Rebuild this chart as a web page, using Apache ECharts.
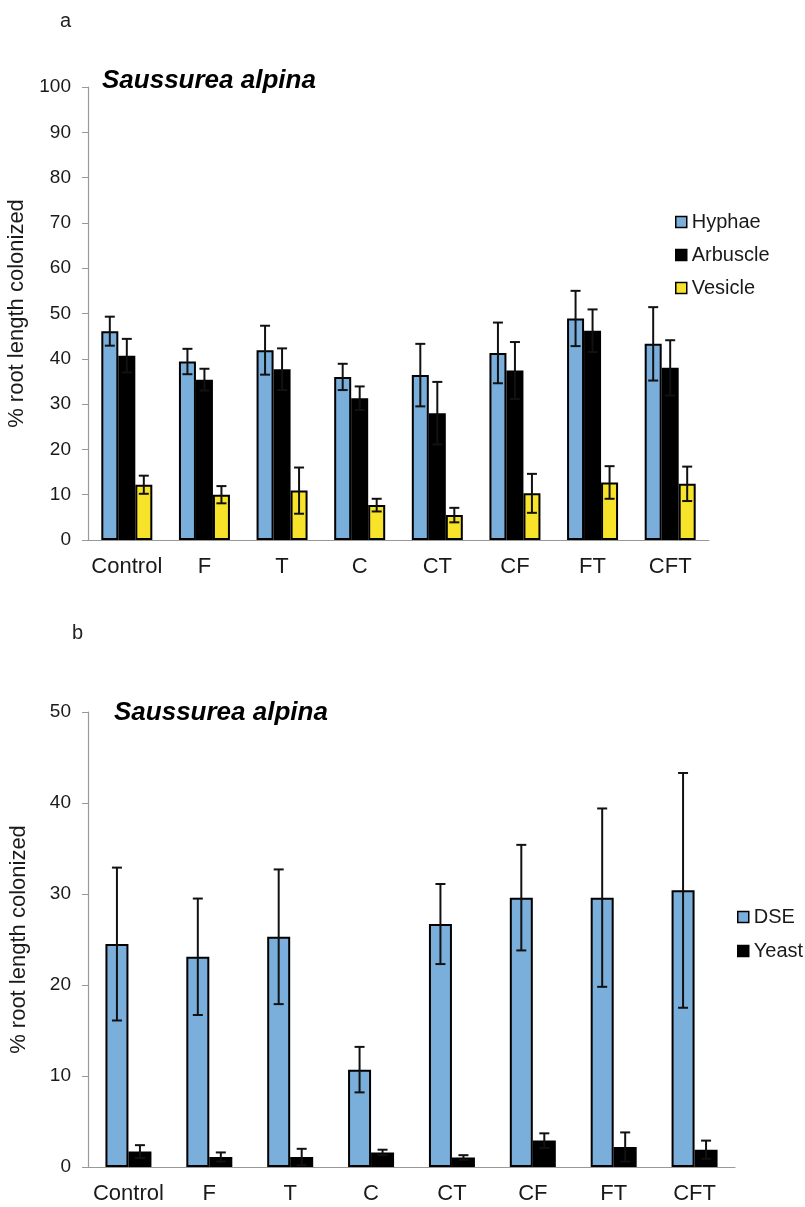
<!DOCTYPE html>
<html>
<head>
<meta charset="utf-8">
<script src="https://cdn.jsdelivr.net/npm/echarts@6/dist/echarts.min.js"></script>
<style>
  html, body { margin: 0; padding: 0; background: #fff; }
  #main { width: 805px; height: 1207px; }
</style>
</head>
<body>
<div id="main"></div>
<script>
// treatments
var cats = ['Control', 'F', 'T', 'C', 'CT', 'CF', 'FT', 'CFT'];

// panel a - AMF structures
var hyphae     = [46.1, 39.4, 41.9, 36.0, 36.4, 41.3, 48.9, 43.3];
var hyphaeErr  = [3.2, 2.8, 5.4, 2.9, 6.9, 6.7, 6.1, 8.1];
var arbuscle    = [40.7, 35.4, 37.7, 31.3, 28.0, 37.4, 46.2, 38.0];
var arbuscleErr = [3.7, 2.4, 4.6, 2.6, 6.9, 6.3, 4.7, 6.1];
var vesicle    = [12.2, 10.0, 10.9, 7.7, 5.5, 10.3, 12.7, 12.4];
var vesicleErr = [2.0, 1.9, 5.1, 1.4, 1.6, 4.3, 3.6, 3.8];

// panel b - DSE and yeast
var dse     = [24.5, 23.1, 25.3, 10.7, 26.7, 29.6, 29.6, 30.4];
var dseErr  = [8.4, 6.4, 7.4, 2.5, 4.4, 5.8, 9.8, 12.9];
var yeast    = [1.7, 1.1, 1.1, 1.6, 1.05, 2.9, 2.2, 1.9];
var yeastErr = [0.7, 0.5, 0.9, 0.3, 0.25, 0.8, 1.6, 1.0];

var FONT = '"Liberation Sans", Arial, sans-serif';
var BLUE = '#7aafdc', YELLOW = '#f7e42a', BLACK = '#000';

function errData(vals, errs) {
  return vals.map(function (v, i) { return [i, v - errs[i], v + errs[i]]; });
}

function errSeries(name, vals, errs, offset, axis) {
  return {
    name: name + ' err',
    type: 'custom',
    xAxisIndex: axis, yAxisIndex: axis,
    z: 10,
    silent: true,
    data: errData(vals, errs),
    renderItem: function (params, api) {
      var lo = api.coord([api.value(0), api.value(1)]);
      var hi = api.coord([api.value(0), api.value(2)]);
      var x = lo[0] + offset;
      var cw = 5;
      var st = { stroke: '#111', lineWidth: 2 };
      return {
        type: 'group',
        children: [
          { type: 'line', shape: { x1: x, y1: lo[1], x2: x, y2: hi[1] }, style: st },
          { type: 'line', shape: { x1: x - cw, y1: hi[1], x2: x + cw, y2: hi[1] }, style: st },
          { type: 'line', shape: { x1: x - cw, y1: lo[1], x2: x + cw, y2: lo[1] }, style: st }
        ]
      };
    }
  };
}

function barSeries(name, vals, color, axis, width) {
  return {
    name: name,
    type: 'bar',
    xAxisIndex: axis, yAxisIndex: axis,
    data: vals,
    barWidth: width,
    barGap: '0%',
    itemStyle: { color: color, borderColor: '#000', borderWidth: 2 }
  };
}

function catAxis(grid) {
  return {
    type: 'category',
    gridIndex: grid,
    data: cats,
    axisLine: { lineStyle: { color: '#999', width: 1.2 } },
    axisTick: { lineStyle: { color: '#999' }, length: 6 },
    axisLabel: { color: '#1a1a1a', fontSize: 22, fontFamily: FONT, margin: 16, interval: 0 }
  };
}

function valAxis(grid, max) {
  return {
    type: 'value',
    gridIndex: grid,
    min: 0, max: max, interval: 10,
    name: '% root length colonized',
    nameLocation: 'middle',
    nameGap: 58,
    nameTextStyle: { color: '#1a1a1a', fontSize: 22, fontFamily: FONT },
    axisLine: { show: true, lineStyle: { color: '#999', width: 1.2 } },
    axisTick: { show: true, length: 6, lineStyle: { color: '#999' } },
    axisLabel: { color: '#1a1a1a', fontSize: 19, fontFamily: FONT, margin: 17 },
    splitLine: { show: false }
  };
}

var chart = echarts.init(document.getElementById('main'));

chart.setOption({
  backgroundColor: '#fff',
  animation: false,
  title: [
    { text: 'a', left: 55, top: 6, textStyle: { fontSize: 20, fontWeight: 'normal', color: '#222', fontFamily: FONT } },
    { text: 'Saussurea alpina', left: 97, top: 63, textStyle: { fontSize: 26, fontStyle: 'italic', fontWeight: 'bold', color: '#000', fontFamily: FONT } },
    { text: 'b', left: 67, top: 618, textStyle: { fontSize: 20, fontWeight: 'normal', color: '#222', fontFamily: FONT } },
    { text: 'Saussurea alpina', left: 109, top: 695, textStyle: { fontSize: 26, fontStyle: 'italic', fontWeight: 'bold', color: '#000', fontFamily: FONT } }
  ],
  legend: [
    {
      data: ['Hyphae', 'Arbuscle', 'Vesicle'],
      orient: 'vertical', left: 670, top: 207,
      icon: 'rect', itemWidth: 11, itemHeight: 11, itemGap: 13,
      itemStyle: { borderColor: '#000', borderWidth: 1.5 },
      textStyle: { fontSize: 20, color: '#1a1a1a', fontFamily: FONT, padding: [0, 0, 0, 0] }
    },
    {
      data: ['DSE', 'Yeast'],
      orient: 'vertical', left: 732, top: 902,
      icon: 'rect', itemWidth: 11, itemHeight: 11, itemGap: 14,
      itemStyle: { borderColor: '#000', borderWidth: 1.5 },
      textStyle: { fontSize: 20, color: '#1a1a1a', fontFamily: FONT, padding: [0, 0, 0, 0] }
    }
  ],
  grid: [
    { left: 88, right: 96, top: 87, height: 453, outerBoundsMode: 'none', containLabel: false },
    { left: 88, right: 70, top: 712, height: 455, outerBoundsMode: 'none', containLabel: false }
  ],
  xAxis: [catAxis(0), catAxis(1)],
  yAxis: [valAxis(0, 100), valAxis(1, 50)],
  series: [
    barSeries('Hyphae', hyphae, BLUE, 0, 17),
    barSeries('Arbuscle', arbuscle, BLACK, 0, 17),
    barSeries('Vesicle', vesicle, YELLOW, 0, 17),
    errSeries('Hyphae', hyphae, hyphaeErr, -17, 0),
    errSeries('Arbuscle', arbuscle, arbuscleErr, 0, 0),
    errSeries('Vesicle', vesicle, vesicleErr, 17, 0),
    barSeries('DSE', dse, BLUE, 1, 23),
    barSeries('Yeast', yeast, BLACK, 1, 23),
    errSeries('DSE', dse, dseErr, -11.5, 1),
    errSeries('Yeast', yeast, yeastErr, 11.5, 1)
  ]
});
</script>
</body>
</html>
